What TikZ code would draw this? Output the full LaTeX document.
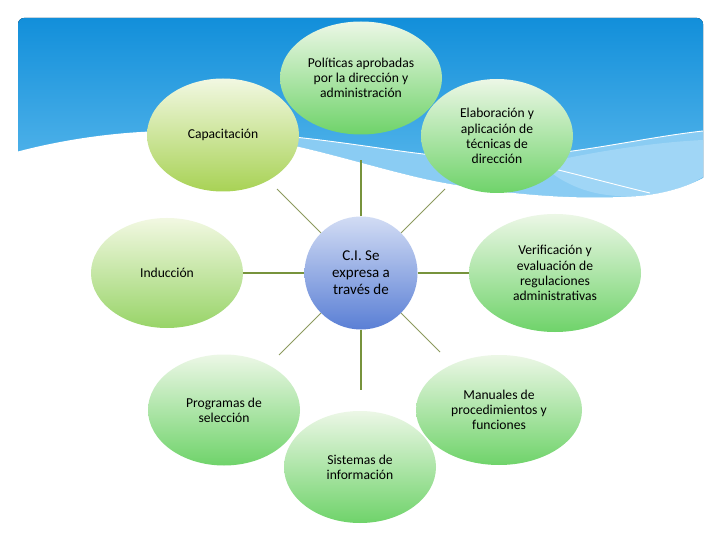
\documentclass[tikz,border=0pt]{standalone}
\usepackage{fontspec}
\setmainfont{Carlito}
\usetikzlibrary{shapes.geometric}
\definecolor{skytop}{HTML}{128FDA}
\definecolor{skybot}{HTML}{66BFEF}
\definecolor{skyband}{HTML}{8ACCF3}
\definecolor{skyband2}{HTML}{A0D6F6}
\definecolor{olive}{HTML}{77933C}
\definecolor{olivethin}{HTML}{8C9A5E}
\definecolor{gtop}{HTML}{ECF7E6}
\definecolor{gbot}{HTML}{6FD36A}
\definecolor{ytop}{HTML}{F2F8E2}
\definecolor{ybot}{HTML}{A8D255}
\definecolor{yybot}{HTML}{98D468}
\definecolor{btop}{HTML}{D2DCF4}
\definecolor{bbot}{HTML}{5A7FD5}
\tikzset{
  bubble/.style={ellipse, inner sep=0pt, align=center, text=black,
    top color=gtop, bottom color=gbot, draw=none,
    font=\fontsize{13.6}{15.2}\selectfont},
  ybubble/.style={bubble, top color=ytop, bottom color=ybot},
  yybubble/.style={bubble, top color=ytop, bottom color=yybot},
  hub/.style={circle, inner sep=0pt, minimum size=113pt, align=center,
    top color=btop, bottom color=bbot, draw=none, text=black,
    font=\fontsize{15}{17}\selectfont},
  thickspoke/.style={draw=olive, line width=2pt},
  thinspoke/.style={draw=olivethin, line width=0.9pt}
}
\begin{document}
\begin{tikzpicture}[x=1pt,y=-1pt]
\useasboundingbox (0,0) rectangle (720,540);
\fill[white] (0,0) rectangle (720,540);
% sky banner
\fill[top color=skytop, bottom color=skybot, rounded corners=6pt] (18,18) rectangle (703,215);
% light band
\fill[skyband] (190,131) .. controls (330,132) and (420,162) .. (500,158)
  .. controls (580,154) and (640,138) .. (703,131) -- (703,177)
  .. controls (690,185) and (670,193) .. (640,196)
  .. controls (580,200) and (520,196) .. (450,184)
  .. controls (380,172) and (300,140) .. (210,132) -- cycle;
\fill[skyband2] (540,164) .. controls (600,150) and (660,142) .. (703,140) -- (703,177)
  .. controls (690,185) and (670,193) .. (640,196)
  .. controls (600,198) and (570,190) .. cycle;
% white ground
\fill[white] (16,152) .. controls (80,135) and (150,128) .. (210,132)
  .. controls (300,140) and (380,172) .. (450,184)
  .. controls (520,196) and (580,200) .. (640,196)
  .. controls (670,193) and (690,185) .. (705,177) -- (705,230) -- (16,230) -- cycle;
% white lines
\draw[white, line width=0.9pt] (190,131) .. controls (330,132) and (420,162) .. (500,158)
  .. controls (580,154) and (640,138) .. (703,131);
\draw[white, line width=0.9pt] (530,163) .. controls (580,175) and (620,186) .. (650,193);

% hub and spokes
\node[hub] (ctr) at (361,273) {C.I. Se\\expresa a\\través de};
\coordinate (tN) at (361,160);
\coordinate (tS) at (361,390);
\coordinate (tNW) at (277,189);
\coordinate (tNE) at (445,189);
\coordinate (tSW) at (279,355);
\coordinate (tSE) at (440,352);

% outer bubbles
\node[bubble, minimum width=162pt, minimum height=113pt] (pol) at (361,78) {Políticas aprobadas\\por la dirección y\\administración};
\node[ybubble, minimum width=152pt, minimum height=113pt] (cap) at (223,135) {Capacitación};
\node[bubble, minimum width=152pt, minimum height=114pt] (ela) at (497,136) {Elaboración y\\aplicación de\\técnicas de\\dirección};
\node[yybubble, minimum width=152pt, minimum height=110pt] (ind) at (167,273) {Inducción};
\node[bubble, minimum width=172pt, minimum height=118pt] (ver) at (555,273) {Verificación y\\evaluación de\\regulaciones\\administrativas};
\node[bubble, minimum width=152pt, minimum height=111pt] (pro) at (224,410) {Programas de\\selección};
\node[bubble, minimum width=166pt, minimum height=110pt] (man) at (499,410) {Manuales de\\procedimientos y\\funciones};
\node[bubble, minimum width=152pt, minimum height=112pt] (sis) at (360,467) {Sistemas de\\información};

\draw[thickspoke] (ctr.north) -- (tN);
\draw[thickspoke] (ctr.south) -- (tS);
\draw[thickspoke] (ctr.west) -- (ind.east);
\draw[thickspoke] (ctr.east) -- (ver.west);
\draw[thinspoke] (ctr.north west) -- (tNW);
\draw[thinspoke] (ctr.north east) -- (tNE);
\draw[thinspoke] (ctr.south west) -- (tSW);
\draw[thinspoke] (ctr.south east) -- (tSE);
\end{tikzpicture}
\end{document}
